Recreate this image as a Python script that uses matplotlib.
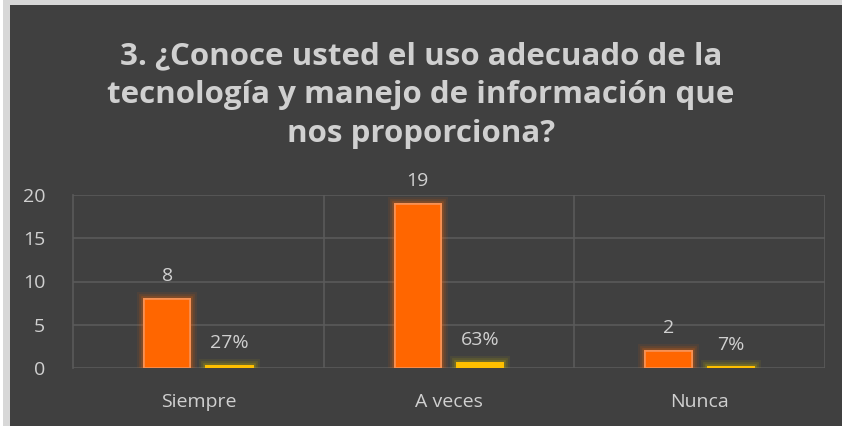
import matplotlib.pyplot as plt
import matplotlib.patheffects as pe
from matplotlib.patches import Rectangle
import numpy as np

categories = ["Siempre", "A veces", "Nunca"]
counts = [8, 19, 2]
shares = [0.27, 0.63, 0.07]
share_labels = ["27%", "63%", "7%"]

title = "3. ¿Conoce usted el uso adecuado de la\ntecnología y manejo de información que\nnos proporciona?"

bg = "#404040"
txt = "#d0d0d0"
orange = "#ff6600"
yellow = "#ffc000"

plt.rcParams["font.family"] = ["Open Sans", "DejaVu Sans"]

fig = plt.figure(figsize=(8.42, 4.26), dpi=100)
fig.patch.set_facecolor("white")
# dark chart area with light frame on the left/top
fig.add_artist(Rectangle((10 / 842, 0), 1, 1 - 5 / 426, transform=fig.transFigure,
                         facecolor=bg, edgecolor="none", zorder=0))
fig.add_artist(Rectangle((3 / 842, 0), 7 / 842, 1, transform=fig.transFigure,
                         facecolor="#d8d8d8", edgecolor="none", zorder=0))
fig.add_artist(Rectangle((3 / 842, 1 - 5 / 426), 1, 5 / 426, transform=fig.transFigure,
                         facecolor="#d8d8d8", edgecolor="none", zorder=0))

ax = fig.add_axes([73 / 842, (426 - 368) / 426, (825 - 73) / 842, (368 - 195) / 426])
ax.set_facecolor(bg)

x = np.arange(len(categories))
w = 0.185
gap = 0.064
b1 = ax.bar(x - w / 2 - gap / 2, counts, w, color=orange, edgecolor="#f79256", linewidth=1.2, zorder=3)
b2 = ax.bar(x + w / 2 + gap / 2, shares, w, color=yellow, edgecolor=yellow, linewidth=1.2, zorder=3)


def glow(color):
    return [pe.withStroke(linewidth=lw, foreground=color, alpha=a)
            for lw, a in [(10, 0.08), (7, 0.12), (4, 0.2)]] + [pe.Normal()]


for r in b1:
    r.set_path_effects(glow(orange))
for r in b2:
    r.set_path_effects(glow("#d4c000"))

for r, v in zip(b1, counts):
    ax.text(r.get_x() + r.get_width() / 2, v + 1.6, str(v), ha="center", va="bottom",
            color=txt, fontsize=14)
for r, v, lab in zip(b2, shares, share_labels):
    ax.text(r.get_x() + r.get_width() / 2, v + 1.6, lab, ha="center", va="bottom",
            color=txt, fontsize=14)

ax.set_xlim(-0.5, 2.5)
ax.set_ylim(0, 20)
ax.set_yticks([0, 5, 10, 15, 20])
ax.set_xticks(x)
ax.set_xticklabels(categories)
ax.tick_params(colors=txt, labelsize=14, length=0)
ax.tick_params(axis="x", pad=18)
ax.tick_params(axis="y", pad=20)
ax.grid(axis="y", color="#5a5a5a", linewidth=1.2, zorder=0)
for xs in [0.5, 1.5, 2.5]:
    ax.axvline(xs, color="#5a5a5a", linewidth=1.2, zorder=0)
for s in ["top", "right", "bottom"]:
    ax.spines[s].set_visible(False)
ax.spines["left"].set_color("#5a5a5a")
ax.spines["left"].set_linewidth(1.2)

fig.text(0.5, 1 - 95 / 426, title, ha="center", va="center", color=txt, fontsize=22.5,
         fontweight="bold", linespacing=1.38, family=["Open Sans", "DejaVu Sans"])

fig.savefig("out.png", dpi=100, facecolor=fig.get_facecolor())
